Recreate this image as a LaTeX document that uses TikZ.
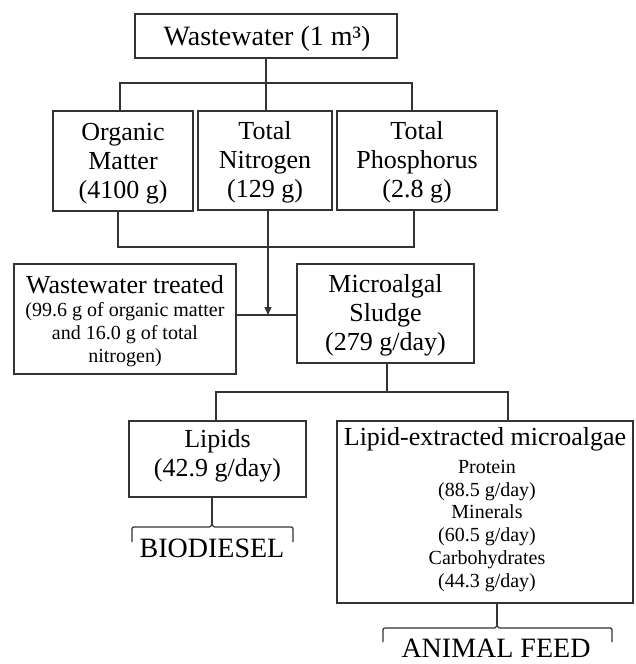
\documentclass[tikz,border=0pt]{standalone}
\usepackage{fontspec}
\setmainfont{Liberation Serif}
\usetikzlibrary{arrows.meta}
\definecolor{lc}{HTML}{333333}
\begin{document}
\begin{tikzpicture}[x=1pt,y=-1pt,
  box/.style={draw=lc, line width=1.2pt, inner sep=0pt},
  big/.style={font=\fontsize{26}{29}\selectfont, anchor=base, inner sep=0pt},
  small/.style={font=\fontsize{20}{23}\selectfont, anchor=base, inner sep=0pt},
  endlabel/.style={font=\fontsize{28}{30}\selectfont, anchor=base, inner sep=0pt},
  conn/.style={draw=lc, line width=1.2pt},
  arr/.style={conn, -{Triangle[length=8pt,width=7pt]}},
]
\useasboundingbox (0,0) rectangle (635,664);

% boxes
\node[box, minimum width=262pt, minimum height=44pt] (top) at (266,36) {};
\node[box, minimum width=140pt, minimum height=100pt] (om) at (123,161) {};
\node[box, minimum width=134pt, minimum height=99pt] (tn) at (265,160.5) {};
\node[box, minimum width=160pt, minimum height=99pt] (ph) at (417,160.5) {};
\node[box, minimum width=222pt, minimum height=110pt] (wt) at (125,319) {};
\node[box, minimum width=177pt, minimum height=99pt] (sl) at (385.5,313.5) {};
\node[box, minimum width=177pt, minimum height=76pt] (li) at (217.5,459) {};
\node[box, minimum width=296pt, minimum height=182pt] (le) at (485,512) {};

% texts
\node[big, font=\fontsize{28}{30}\selectfont] (ttop) at (267,45) {Wastewater (1 m³)};
\node[big] (tom1) at (123,140) {Organic};
\node[big] (tom2) at (123,169) {Matter};
\node[big] (tom3) at (123,198) {(4100 g)};
\node[big] (ttn1) at (265,139) {Total};
\node[big] (ttn2) at (265,168) {Nitrogen};
\node[big] (ttn3) at (265,197) {(129 g)};
\node[big] (tph1) at (417,139) {Total};
\node[big] (tph2) at (417,168) {Phosphorus};
\node[big] (tph3) at (417,197) {(2.8 g)};
\node[big] (twt1) at (125,293) {Wastewater treated};
\node[small] (twt2) at (125,316) {(99.6 g of organic matter};
\node[small] (twt3) at (125,339) {and 16.0 g of total};
\node[small] (twt4) at (125,362) {nitrogen)};
\node[big] (tsl1) at (385.5,292) {Microalgal};
\node[big] (tsl2) at (385.5,321) {Sludge};
\node[big] (tsl3) at (385.5,350) {(279 g/day)};
\node[big] (tli1) at (217.5,447) {Lipids};
\node[big] (tli2) at (217.5,476) {(42.9 g/day)};
\node[big] (tle1) at (485,445) {Lipid-extracted microalgae};
\node[small] (tle2) at (487,473) {Protein};
\node[small] (tle3) at (487,496) {(88.5 g/day)};
\node[small] (tle4) at (487,518.5) {Minerals};
\node[small] (tle5) at (487,541) {(60.5 g/day)};
\node[small] (tle6) at (487,564) {Carbohydrates};
\node[small] (tle7) at (487,587) {(44.3 g/day)};
\node[endlabel] (bio) at (212,557) {BIODIESEL};
\node[endlabel] (feed) at (496,657) {ANIMAL FEED};

% junction coordinates
\coordinate (t1) at (266,83);
\coordinate (b1) at (268,247);
\coordinate (j) at (268,315);
\coordinate (s1) at (387,392);
\coordinate (bt) at (212,523);
\coordinate (at) at (497,624);

% connectors
\draw[conn] (top.south) -- (t1);
\draw[conn] ([xshift=-3pt]om.north) |- (t1) -| ([xshift=-5pt]ph.north);
\draw[conn] (t1) -- (t1 |- tn.north);
\draw[conn] ([xshift=-5pt]om.south) |- (b1) -| ([xshift=-3pt]ph.south);
\draw[arr] (tn.south -| j) -- (j);
\draw[conn] (wt.east |- j) -- (sl.west |- j);
\draw[conn] (sl.south -| s1) -- (s1);
\draw[conn] ([xshift=-1.5pt]li.north) |- (s1) -| ([xshift=23pt]le.north);
\draw[conn] (li.south -| bt) -- (bt);
\draw[conn] (le.south -| at) -- (at);

% braces
\draw[conn] (132,542) -- (132,531) .. controls (132,527) .. (136,527) -- (207,527)
  .. controls (211,527) .. (bt) .. controls (213,527) .. (217,527) -- (289,527)
  .. controls (293,527) .. (293,531) -- (293,542);
\draw[conn] (383,642) -- (383,632) .. controls (383,628) .. (387,628) -- (492,628)
  .. controls (496,628) .. (at) .. controls (498,628) .. (502,628) -- (608,628)
  .. controls (612,628) .. (612,632) -- (612,642);
\end{tikzpicture}
\end{document}
